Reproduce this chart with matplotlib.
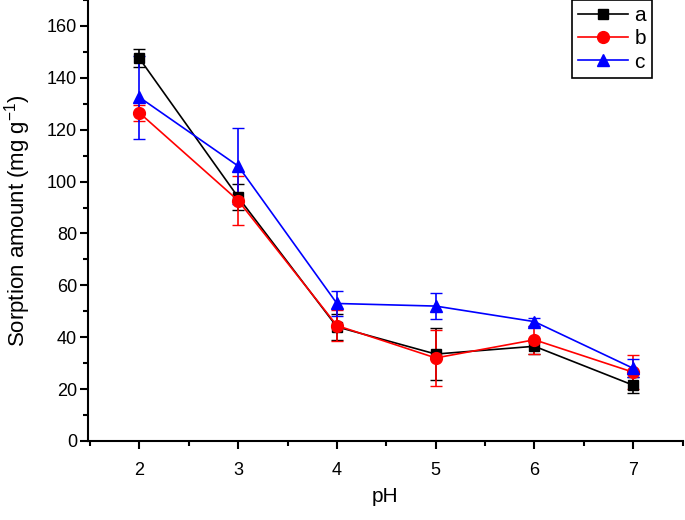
import matplotlib
matplotlib.use("Agg")
import matplotlib.pyplot as plt
from matplotlib.ticker import MultipleLocator

plt.rcParams["font.family"] = ["Liberation Sans", "DejaVu Sans"]
plt.rcParams["mathtext.default"] = "regular"

# Data
ph = [2, 3, 4, 5, 6, 7]
a_vals = [147.5, 94, 44, 33.5, 36.5, 21.5]
a_err = [3.5, 5, 5, 10, 3, 3]
b_vals = [126.5, 92.7, 44.5, 32, 39, 26.5]
b_err = [3, 9.5, 6, 10.7, 5.5, 6.5]
c_vals = [132.5, 106, 53, 52, 46, 28]
c_err = [16, 14.5, 5, 5, 1.5, 3.5]

fig = plt.figure(figsize=(6.85, 5.2), dpi=100)
ax = fig.add_axes([0.1285, 0.152, 0.868, 0.848])

ea = ax.errorbar(ph, a_vals, yerr=a_err, color="black", marker="s", markersize=7,
                 capsize=4.5, linewidth=1.2, elinewidth=1.2, label="a")
eb = ax.errorbar(ph, b_vals, yerr=b_err, color="red", marker="o", markersize=8.5,
                 capsize=4.5, linewidth=1.2, elinewidth=1.2, label="b")
ec = ax.errorbar(ph, c_vals, yerr=c_err, color="blue", marker="^", markersize=9,
                 capsize=4.5, linewidth=1.2, elinewidth=1.2, label="c")

ax.set_xlim(1.48, 7.5)
ax.set_ylim(0, 170)
ax.yaxis.set_major_locator(MultipleLocator(20))
ax.yaxis.set_minor_locator(MultipleLocator(10))
ax.xaxis.set_major_locator(MultipleLocator(1))
ax.xaxis.set_minor_locator(MultipleLocator(0.5))

ax.spines["top"].set_visible(False)
ax.spines["right"].set_visible(False)
ax.spines["left"].set_linewidth(1.5)
ax.spines["bottom"].set_linewidth(1.5)
ax.tick_params(which="major", direction="out", length=6, width=1.5, labelsize=13)
ax.tick_params(which="minor", direction="out", length=3.5, width=1.5)
ax.tick_params(axis="x", pad=9)
ax.tick_params(axis="y", pad=2)

ax.set_xlabel("pH", fontsize=15, labelpad=6)
ax.set_ylabel("Sorption amount (mg g$^{-1}$)", fontsize=16, labelpad=10)

leg = ax.legend([ea[0], eb[0], ec[0]], ["a", "b", "c"],
                loc="upper right", bbox_to_anchor=(0.952, 1.0), bbox_transform=fig.transFigure,
                fontsize=15, frameon=True, fancybox=False, edgecolor="black", framealpha=1,
                borderpad=0.3, labelspacing=0.2, handlelength=2.4, handletextpad=0.3,
                borderaxespad=0)
leg.get_frame().set_linewidth(1.2)

fig.savefig("out.png", dpi=100)
